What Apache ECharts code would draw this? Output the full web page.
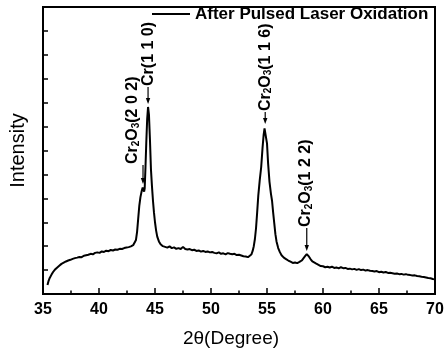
<!DOCTYPE html>
<html>
<head>
<meta charset="utf-8">
<script src="https://cdn.jsdelivr.net/npm/echarts@6/dist/echarts.min.js"></script>
<style>html,body{margin:0;padding:0;background:#fff}#c{width:445px;height:354px}</style>
</head>
<body>
<div id="c"></div>
<script>
// ---- data ----
const seriesName = 'After Pulsed Laser Oxidation';
const xTitle = '2\u03B8(Degree)';
const yTitle = 'Intensity';
const twoTheta = [
35.40,35.50,35.60,35.75,35.90,36.05,36.25,36.45,36.65,36.85,37.05,37.25,37.45,37.65,37.85,38.05,38.25,38.45,38.65,38.85,
39.05,39.25,39.45,39.65,39.85,40.05,40.25,40.45,40.65,40.85,41.05,41.25,41.45,41.65,41.85,42.05,42.25,42.45,42.65,42.85,
43.05,43.20,43.30,43.40,43.50,43.60,43.70,43.80,43.90,43.97,44.03,44.08,44.15,44.22,44.30,44.38,44.46,44.55,44.64,44.73,
44.82,44.91,45.00,45.10,45.20,45.35,45.50,45.70,45.90,46.10,46.30,46.50,46.70,46.90,47.10,47.30,47.50,47.70,47.90,48.10,
48.30,48.50,48.70,48.90,49.10,49.30,49.50,49.70,49.90,50.10,50.30,50.50,50.70,50.90,51.10,51.30,51.50,51.70,51.90,52.10,
52.30,52.50,52.70,52.90,53.10,53.30,53.45,53.60,53.72,53.82,53.92,54.02,54.12,54.22,54.35,54.48,54.60,54.70,54.78,54.84,
54.92,55.00,55.10,55.22,55.35,55.45,55.55,55.65,55.75,55.85,56.00,56.15,56.30,56.50,56.70,56.90,57.10,57.30,57.50,57.70,
57.90,58.10,58.25,58.40,58.55,58.65,58.75,58.90,59.05,59.20,59.40,59.60,59.80,60.00,60.20,60.40,60.60,60.80,61.00,61.20,
61.40,61.60,61.80,62.00,62.20,62.40,62.60,62.80,63.00,63.20,63.40,63.60,63.80,64.00,64.20,64.40,64.60,64.80,65.00,65.20,
65.40,65.60,65.80,66.00,66.20,66.40,66.60,66.80,67.00,67.20,67.40,67.60,67.80,68.00,68.20,68.40,68.60,68.80,69.00,69.20,
69.40,69.60,69.80,70.00
];
const intensity = [
-62,-45,-33,-20,-8,1,10,18,26,31,36,40,43,47,50,52,55,54,60,62,
64,68,66,72,74,72,78,76,81,79,84,82,86,85,89,88,92,94,96,99,
104,110,126,160,215,270,305,328,345,350,328,342,430,530,630,682,650,545,420,350,
290,240,200,165,140,120,108,100,97,94,99,92,95,89,92,88,97,88,86,88,
83,85,80,82,77,80,76,78,74,76,72,70,74,68,70,66,71,68,66,68,
63,64,61,58,57,54,56,65,80,100,130,175,240,310,375,430,510,565,592,598,
585,530,445,370,320,290,240,195,150,120,92,75,62,52,46,40,35,30,32,29,
34,40,48,58,67,62,56,45,36,32,27,22,17,16,12,14,11,14,9,11,
7,12,8,9,5,6,3,5,1,4,0,2,-2,0,-3,-4,-6,-4,-9,-7,
-10,-8,-12,-11,-13,-15,-14,-17,-16,-19,-17,-20,-21,-23,-22,-25,-26,-28,-29,-31,
-33,-34,-37,-38
];
const xTicks = [35, 70, 5];       // min, max, step
const yTicks = [-100, 1100, 100]; // min, max, step (labels hidden)
// peak annotations: position (2θ, intensity) and text
const peakX = [43.93, 44.38, 54.84, 58.55];
const peakY = [347, 682, 598, 67];
const peakText = ['Cr2O3(2 0 2)', 'Cr(1 1 0)', 'Cr2O3(1 1 6)', 'Cr2O3(1 2 2)'];

// ---- styles ----
const FONT = '"Liberation Sans", Arial, sans-serif';
const peakStyle = [
  {arrow: 19, dx: -10},
  {arrow: 17, dx: 1},
  {arrow: 12, dx: 0},
  {arrow: 23, dx: -1}
];

function toRich(s) {
  let out = '';
  const re = /([A-Za-z])(\d)/g;
  let last = 0, m;
  while ((m = re.exec(s)) !== null) {
    const seg = s.slice(last, m.index + 1);
    if (seg) out += '{n|' + seg + '}';
    out += '{s|' + m[2] + '}';
    last = m.index + 2;
  }
  if (last < s.length) out += '{n|' + s.slice(last) + '}';
  return out;
}

const chart = echarts.init(document.getElementById('c'), null, {renderer: 'canvas'});
const data = twoTheta.map((x, i) => [x, intensity[i]]);

chart.setOption({
  animation: false,
  backgroundColor: '#fff',
  grid: {left: 43, right: 10, top: 7, bottom: 60, containLabel: false, outerBoundsMode: 'none',
         show: true, borderColor: '#000', borderWidth: 2, backgroundColor: 'transparent'},
  legend: {
    show: true, left: 152, top: 5, padding: 0,
    itemWidth: 38, itemHeight: 2, icon: 'rect',
    data: [{name: seriesName, icon: 'rect'}],
    textStyle: {color: '#000', fontFamily: FONT, fontWeight: 'bold', fontSize: 17, lineHeight: 18},
    selectedMode: false
  },
  xAxis: {
    type: 'value', min: xTicks[0], max: xTicks[1], interval: xTicks[2],
    name: xTitle, nameLocation: 'middle', nameGap: 35,
    nameTextStyle: {color: '#000', fontFamily: FONT, fontSize: 19, padding: [0, 16, 0, 0]},
    axisLine: {show: true, onZero: false, lineStyle: {color: '#000', width: 2}},
    axisTick: {show: true, inside: true, length: 6, lineStyle: {color: '#000', width: 1.5}},
    minorTick: {show: true, splitNumber: 2, length: 3.5, lineStyle: {color: '#000', width: 1.5}},
    axisLabel: {color: '#000', fontFamily: FONT, fontWeight: 'bold', fontSize: 16, margin: 8},
    splitLine: {show: false}
  },
  yAxis: {
    type: 'value', min: yTicks[0], max: yTicks[1], interval: yTicks[2],
    name: yTitle, nameLocation: 'middle', nameGap: 15,
    nameTextStyle: {color: '#000', fontFamily: FONT, fontSize: 20},
    axisLine: {show: true, onZero: false, lineStyle: {color: '#000', width: 2}},
    axisTick: {show: true, inside: true, length: 5, lineStyle: {color: '#000', width: 1.5}},
    axisLabel: {show: false},
    splitLine: {show: false}
  },
  series: [{
    name: seriesName, type: 'line', data: data,
    showSymbol: false, symbol: 'none',
    itemStyle: {color: '#000'},
    lineStyle: {color: '#000', width: 2}
  }]
});

const graphics = [];
for (let i = 0; i < peakX.length; i++) {
  const p = chart.convertToPixel({gridIndex: 0}, [peakX[i], peakY[i]]);
  const st = peakStyle[i];
  const tipY = p[1] - 3;
  const topY = tipY - st.arrow;
  graphics.push({type: 'line', shape: {x1: p[0], y1: topY, x2: p[0], y2: tipY - 4}, style: {stroke: '#000', lineWidth: 1.2}, silent: true});
  graphics.push({type: 'polygon', shape: {points: [[p[0] - 2.2, tipY - 6], [p[0] + 2.2, tipY - 6], [p[0], tipY]]}, style: {fill: '#000'}, silent: true});
  graphics.push({
    type: 'text', x: p[0] + st.dx, y: topY - 1, rotation: Math.PI / 2, silent: true,
    style: {
      text: toRich(peakText[i]), align: 'left', verticalAlign: 'middle',
      rich: {
        n: {fontFamily: FONT, fontWeight: 'bold', fontSize: 16, fill: '#000', lineHeight: 17},
        s: {fontFamily: FONT, fontWeight: 'bold', fontSize: 10, fill: '#000', verticalAlign: 'bottom', lineHeight: 17}
      }
    }
  });
}
chart.setOption({graphic: graphics});
</script>
</body>
</html>
